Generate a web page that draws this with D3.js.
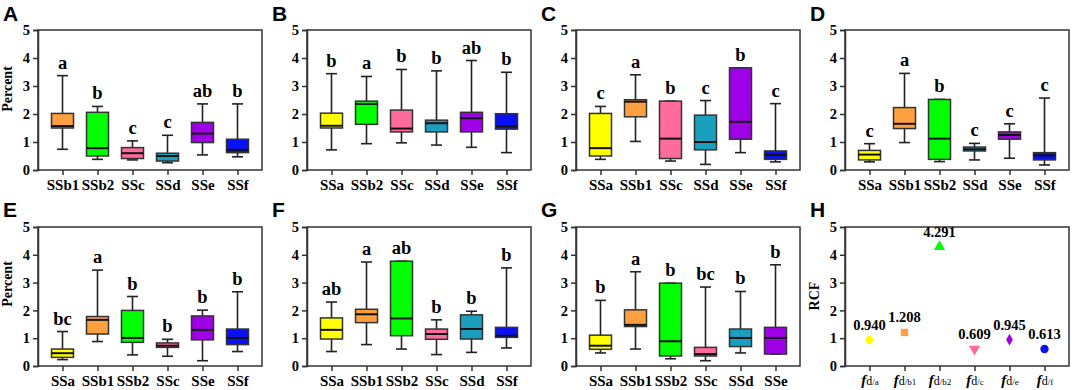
<!DOCTYPE html>
<html>
<head>
<meta charset="utf-8">
<title>Box plots</title>
<script src="https://d3js.org/d3.v7.min.js"></script>
<style>
  body { margin: 0; background: #fff; }
  text { font-family: "Liberation Serif", "Times New Roman", serif; font-weight: bold; }
  .panel-letter { font-family: "Liberation Sans", Arial, sans-serif; font-size: 21px; }
</style>
</head>
<body>
<script>
// box stats: [low whisker, Q1, median, Q3, high whisker]
var catsA = ["SSb1","SSb2","SSc","SSd","SSe","SSf"];
var statsA = [[0.74,1.50,1.57,2.02,3.37],[0.38,0.50,0.78,2.06,2.27],[0.36,0.41,0.60,0.80,1.04],[0.26,0.32,0.50,0.60,1.24],[0.54,0.98,1.30,1.70,2.36],[0.47,0.62,0.72,1.10,2.36]];
var lettersA = ["a","b","c","c","ab","b"];

var catsB = ["SSa","SSb2","SSc","SSd","SSe","SSf"];
var statsB = [[0.72,1.50,1.58,2.03,3.44],[0.94,1.63,2.36,2.46,3.34],[0.97,1.36,1.48,2.14,3.59],[0.89,1.36,1.67,1.78,3.54],[0.81,1.36,1.85,2.06,3.91],[0.62,1.46,1.56,2.01,3.49]];
var lettersB = ["b","a","b","b","ab","b"];

var catsC = ["SSa","SSb1","SSc","SSd","SSe","SSf"];
var statsC = [[0.38,0.50,0.78,2.02,2.27],[1.02,1.90,2.44,2.51,3.40],[0.32,0.41,1.12,2.46,2.46],[0.20,0.72,1.00,1.96,2.48],[0.62,1.10,1.72,3.65,3.65],[0.29,0.38,0.54,0.68,2.37]];
var lettersC = ["c","a","b","c","b","c"];

var catsD = ["SSa","SSb1","SSb2","SSd","SSe","SSf"];
var statsD = [[0.29,0.36,0.55,0.70,0.94],[0.98,1.48,1.65,2.23,3.45],[0.30,0.38,1.12,2.52,2.52],[0.36,0.68,0.74,0.82,0.95],[0.42,1.10,1.25,1.36,1.65],[0.18,0.36,0.52,0.62,2.57]];
var lettersD = ["c","a","b","c","c","c"];

var catsE = ["SSa","SSb1","SSb2","SSc","SSe","SSf"];
var statsE = [[0.23,0.31,0.46,0.61,1.24],[0.88,1.15,1.66,1.78,3.45],[0.40,0.85,1.01,2.00,2.50],[0.35,0.67,0.73,0.83,0.96],[0.19,0.94,1.30,1.80,2.01],[0.52,0.77,1.01,1.33,2.67]];
var lettersE = ["bc","a","b","b","b","b"];

var catsF = ["SSa","SSb1","SSb2","SSc","SSd","SSf"];
var statsF = [[0.52,0.97,1.30,1.73,2.30],[0.77,1.56,1.86,2.04,3.74],[0.61,1.09,1.71,3.77,3.77],[0.41,0.96,1.15,1.33,1.66],[0.49,0.97,1.33,1.84,1.97],[0.65,1.03,1.09,1.39,3.53]];
var lettersF = ["ab","a","ab","b","b","b"];

var catsG = ["SSa","SSb1","SSb2","SSc","SSd","SSe"];
var statsG = [[0.47,0.60,0.73,1.11,2.36],[0.61,1.42,1.48,2.02,3.39],[0.26,0.36,0.89,2.98,2.98],[0.19,0.36,0.43,0.67,2.84],[0.47,0.70,1.01,1.33,2.68],[0.43,0.43,1.01,1.39,3.64]];
var lettersG = ["b","a","b","bc","b","b"];

var rcfSub = ["a","b1","b2","c","e","f"];
var rcfValues = [0.940,1.208,4.291,0.609,0.945,0.613];
var rcfLabels = ["0.940","1.208","4.291","0.609","0.945","0.613"];

var yTicks = [0,1,2,3,4,5];

var colors = {SSa:"#ffff00", SSb1:"#ffa040", SSb2:"#00ff00", SSc:"#ff6b9c",
              SSd:"#1a9fbf", SSe:"#a000e8", SSf:"#0a10f5"};

var W = 1072, H = 390;
var svg = d3.select("body").append("svg").attr("width", W).attr("height", H);

var lefts = [38, 307, 576, 845];
var rows = [{top:30, bottom:170}, {top:227, bottom:366}];
var pw = 224;

function panelFrame(letter, col, row, ylabel) {
  var x0 = lefts[col], r = rows[row];
  var g = svg.append("g");
  var y = d3.scaleLinear().domain([0,5]).range([r.bottom, r.top]);
  g.append("rect").attr("x", x0).attr("y", r.top).attr("width", pw).attr("height", r.bottom - r.top)
    .attr("fill","none").attr("stroke","#333").attr("stroke-width",1.5);
  var ax = g.append("g").attr("transform","translate("+x0+",0)")
    .call(d3.axisLeft(y).tickValues(yTicks).tickSize(5).tickPadding(3).tickFormat(d3.format("d")));
  ax.select(".domain").attr("stroke","#333").attr("stroke-width",1.5);
  ax.selectAll(".tick line").attr("stroke","#333").attr("stroke-width",1.5);
  ax.selectAll("text").attr("font-size",14.5).attr("fill","#000")
    .style("font-family","'Liberation Serif', serif").style("font-weight","bold");
  g.append("text").attr("class","panel-letter").attr("x", x0 - 35).attr("y", row ? 217 : 21).text(letter);
  if (ylabel) {
    var cy = row ? (ylabel === "RCF" ? 296 : 284) : 89;
    g.append("text").attr("transform","translate("+(x0 - 26)+","+cy+") rotate(-90)")
      .attr("text-anchor","middle").attr("font-size",14).text(ylabel);
  }
  return {g:g, y:y, x0:x0, r:r};
}

function xScale(x0, cats) {
  return d3.scalePoint().domain(cats).range([x0, x0 + pw]).padding(0.7);
}

function xAxis(p, x) {
  var ax = p.g.append("g").attr("transform","translate(0,"+p.r.bottom+")")
    .call(d3.axisBottom(x).tickSize(5).tickPadding(4));
  ax.select(".domain").remove();
  ax.selectAll(".tick line").attr("stroke","#333").attr("stroke-width",1.5);
  return ax;
}

function boxPanel(letter, col, row, cats, stats, letters, ylabel) {
  var p = panelFrame(letter, col, row, ylabel);
  var x = xScale(p.x0, cats), y = p.y;
  var ax = xAxis(p, x);
  ax.selectAll("text").attr("font-size",15).attr("fill","#000")
    .style("font-family","'Liberation Serif', serif").style("font-weight","bold");
  var bw = 22, cw = 11;
  var b = p.g.selectAll(".box").data(cats).enter().append("g")
    .attr("transform", function(d){ return "translate("+x(d)+",0)"; });
  b.append("line").attr("x1",0).attr("x2",0)
    .attr("y1", function(d,i){ return y(stats[i][0]); })
    .attr("y2", function(d,i){ return y(stats[i][4]); })
    .attr("stroke","#222").attr("stroke-width",1.6);
  [0,4].forEach(function(k){
    b.append("line").attr("x1",-cw/2).attr("x2",cw/2)
      .attr("y1", function(d,i){ return y(stats[i][k]); })
      .attr("y2", function(d,i){ return y(stats[i][k]); })
      .attr("stroke","#222").attr("stroke-width",1.6);
  });
  b.append("rect").attr("x",-bw/2).attr("width",bw)
    .attr("y", function(d,i){ return y(stats[i][3]); })
    .attr("height", function(d,i){ return Math.max(1, y(stats[i][1]) - y(stats[i][3])); })
    .attr("fill", function(d){ return colors[d]; })
    .attr("stroke","#333").attr("stroke-width",1.5);
  b.append("line").attr("x1",-bw/2).attr("x2",bw/2)
    .attr("y1", function(d,i){ return y(stats[i][2]); })
    .attr("y2", function(d,i){ return y(stats[i][2]); })
    .attr("stroke","#111").attr("stroke-width",2);
  b.append("text").attr("text-anchor","middle").attr("font-size",18.5)
    .attr("y", function(d,i){ return y(stats[i][4]) - 7; })
    .text(function(d,i){ return letters[i]; });
}

boxPanel("A", 0, 0, catsA, statsA, lettersA, "Percent");
boxPanel("B", 1, 0, catsB, statsB, lettersB);
boxPanel("C", 2, 0, catsC, statsC, lettersC);
boxPanel("D", 3, 0, catsD, statsD, lettersD);
boxPanel("E", 0, 1, catsE, statsE, lettersE, "Percent");
boxPanel("F", 1, 1, catsF, statsF, lettersF);
boxPanel("G", 2, 1, catsG, statsG, lettersG);

// panel H: RCF points
(function(){
  var p = panelFrame("H", 3, 1, "RCF");
  var x = xScale(p.x0, rcfSub), y = p.y;
  var ax = xAxis(p, x);
  ax.selectAll("text").remove();
  ax.selectAll(".tick").append("text").attr("y", 19).attr("text-anchor","middle").attr("fill","#000")
    .each(function(d){
      var t = d3.select(this);
      t.append("tspan").attr("font-size",15).attr("font-style","italic").text("f");
      t.append("tspan").attr("font-size",12).attr("font-weight","normal").text("d");
      t.append("tspan").attr("font-size",9).attr("font-weight","normal").text("/" + d);
    });
  var symCol = [colors.SSa, colors.SSb1, colors.SSb2, colors.SSc, colors.SSe, colors.SSf];
  var syms = [d3.symbolCircle, d3.symbolSquare, d3.symbolTriangle, d3.symbolTriangle, d3.symbolDiamond, d3.symbolCircle];
  var sizes = [55, 55, 55, 55, 40, 55];
  var pts = p.g.selectAll(".pt").data(rcfSub).enter().append("g")
    .attr("transform", function(d,i){ return "translate("+x(d)+","+y(rcfValues[i])+")"; });
  pts.append("path")
    .attr("d", function(d,i){ return d3.symbol().type(syms[i]).size(sizes[i])(); })
    .attr("transform", function(d,i){ return i === 3 ? "rotate(180)" : null; })
    .attr("fill", function(d,i){ return symCol[i]; });
  pts.append("text").attr("text-anchor","middle").attr("font-size",14.5).attr("y",-10)
    .text(function(d,i){ return rcfLabels[i]; });
})();
</script>
</body>
</html>
